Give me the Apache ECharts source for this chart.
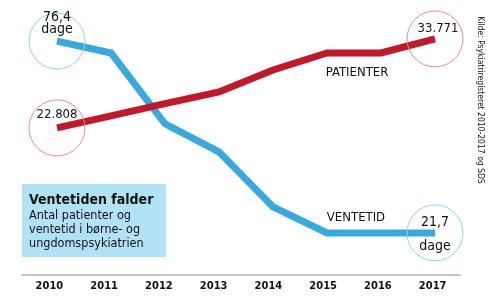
<!DOCTYPE html>
<html><head><meta charset="utf-8">
<script src="https://cdn.jsdelivr.net/npm/echarts@6/dist/echarts.min.js"></script>
<style>html,body{margin:0;padding:0;background:#fff}#c{width:500px;height:307px}</style>
</head><body><div id="c"></div>
<script>
const years = ['2010','2011','2012','2013','2014','2015','2016','2017'];
const ventetid = [76.4, 73.0, 52.8, 44.8, 29.1, 21.7, 21.7, 21.7];
const patienter = [22808, 24300, 25800, 27250, 29950, 32050, 32050, 33771];
const ventetidLabels = ['76,4\ndage', '21,7\n\ndage'];
const patienterLabels = ['22.808', '33.771'];
const seriesNames = ['VENTETID', 'PATIENTER'];
const titleText = 'Ventetiden falder';
const subText = ['Antal patienter og', 'ventetid i børne- og', 'ungdomspsykiatrien'];
const sourceText = 'Kilde: Psykiatriregisteret 2010-2017 og SDS';

const FONT = '"Liberation Sans Narrow", "DejaVu Sans Condensed", Roboto, sans-serif';
const BLUE = '#36a9e1', RED = '#c1182a';
const last = years.length - 1;

function endLabel(labels) {
  return function(p) {
    if (p.dataIndex === 0) return labels[0];
    if (p.dataIndex === last) return labels[1];
    return '';
  };
}

const chart = echarts.init(document.getElementById('c'), null, {renderer:'canvas'});
chart.setOption({
  animation: false,
  textStyle: {fontFamily: FONT},
  grid: [
    {left: 57, right: 65, top: 20, bottom: 32},
    {left: 22, right: 40, top: 20, bottom: 32}
  ],
  xAxis: [
    {type:'category', data: years, gridIndex:0, boundaryGap:false, show:false},
    {type:'category', data: years, gridIndex:1, boundaryGap:true,
     axisLine:{lineStyle:{color:'#c4c4c4', width:2}}, axisTick:{show:false},
     axisLabel:{color:'#111', fontSize:11, fontWeight:'bold', fontFamily: FONT, margin:6}}
  ],
  yAxis: [
    {type:'value', gridIndex:0, min:9.7, max:82.4, show:false},
    {type:'value', gridIndex:0, min:4700, max:36100, show:false},
    {type:'value', gridIndex:1, show:false}
  ],
  series: [
    {
      name: seriesNames[0], type:'line', xAxisIndex:0, yAxisIndex:0, data: ventetid,
      lineStyle:{color:BLUE, width:7, join:'miter'},
      itemStyle:{color:'rgba(0,0,0,0)', borderColor:'#8fd2f1', borderWidth:1},
      symbol: 'circle',
      symbolSize: (v, p) => (p.dataIndex === 0 || p.dataIndex === last) ? 56 : 0,
      showAllSymbol: true,
      label:{show:true, position:'inside', formatter: endLabel(ventetidLabels), color:'#111', fontSize:14, lineHeight:12, fontFamily: FONT},
      labelLayout: (p) => p.dataIndex === 0 ? {dy: -18} : {dy: 1},
      z: 2
    },
    {
      name: seriesNames[1], type:'line', xAxisIndex:0, yAxisIndex:1, data: patienter,
      lineStyle:{color:RED, width:7, join:'miter'},
      itemStyle:{color:'rgba(0,0,0,0)', borderColor:'#e58a93', borderWidth:1},
      symbol: 'circle',
      symbolSize: (v, p) => (p.dataIndex === 0 || p.dataIndex === last) ? 56 : 0,
      showAllSymbol: true,
      label:{show:true, position:'inside', formatter: endLabel(patienterLabels), color:'#111', fontSize:13, fontFamily: FONT},
      labelLayout: (p) => p.dataIndex === 0 ? {dy: -13} : {dy: -10, dx: 3},
      z: 3
    }
  ],
  graphic: [
    {type:'rect', left:22, top:184, shape:{width:144, height:73}, style:{fill:'#b2e3f5'}, z:1},
    {type:'text', left:29, top:193, style:{text:titleText, font:'bold 14px ' + FONT, fill:'#111'}, z:2},
    {type:'text', left:29, top:209, style:{text:subText.join('\n'), font:'12.5px ' + FONT, lineHeight:14, fill:'#111'}, z:2},
    {type:'text', x:357, y:73, style:{text:seriesNames[1], font:'13px ' + FONT, fill:'#111', align:'center', verticalAlign:'middle'}},
    {type:'text', x:356, y:218, style:{text:seriesNames[0], font:'13px ' + FONT, fill:'#111', align:'center', verticalAlign:'middle'}},
    {type:'text', x:480, y:100, rotation:-Math.PI/2, style:{text:sourceText, font:'8.5px ' + FONT, fill:'#111', align:'center', verticalAlign:'middle'}}
  ]
});
</script></body></html>
